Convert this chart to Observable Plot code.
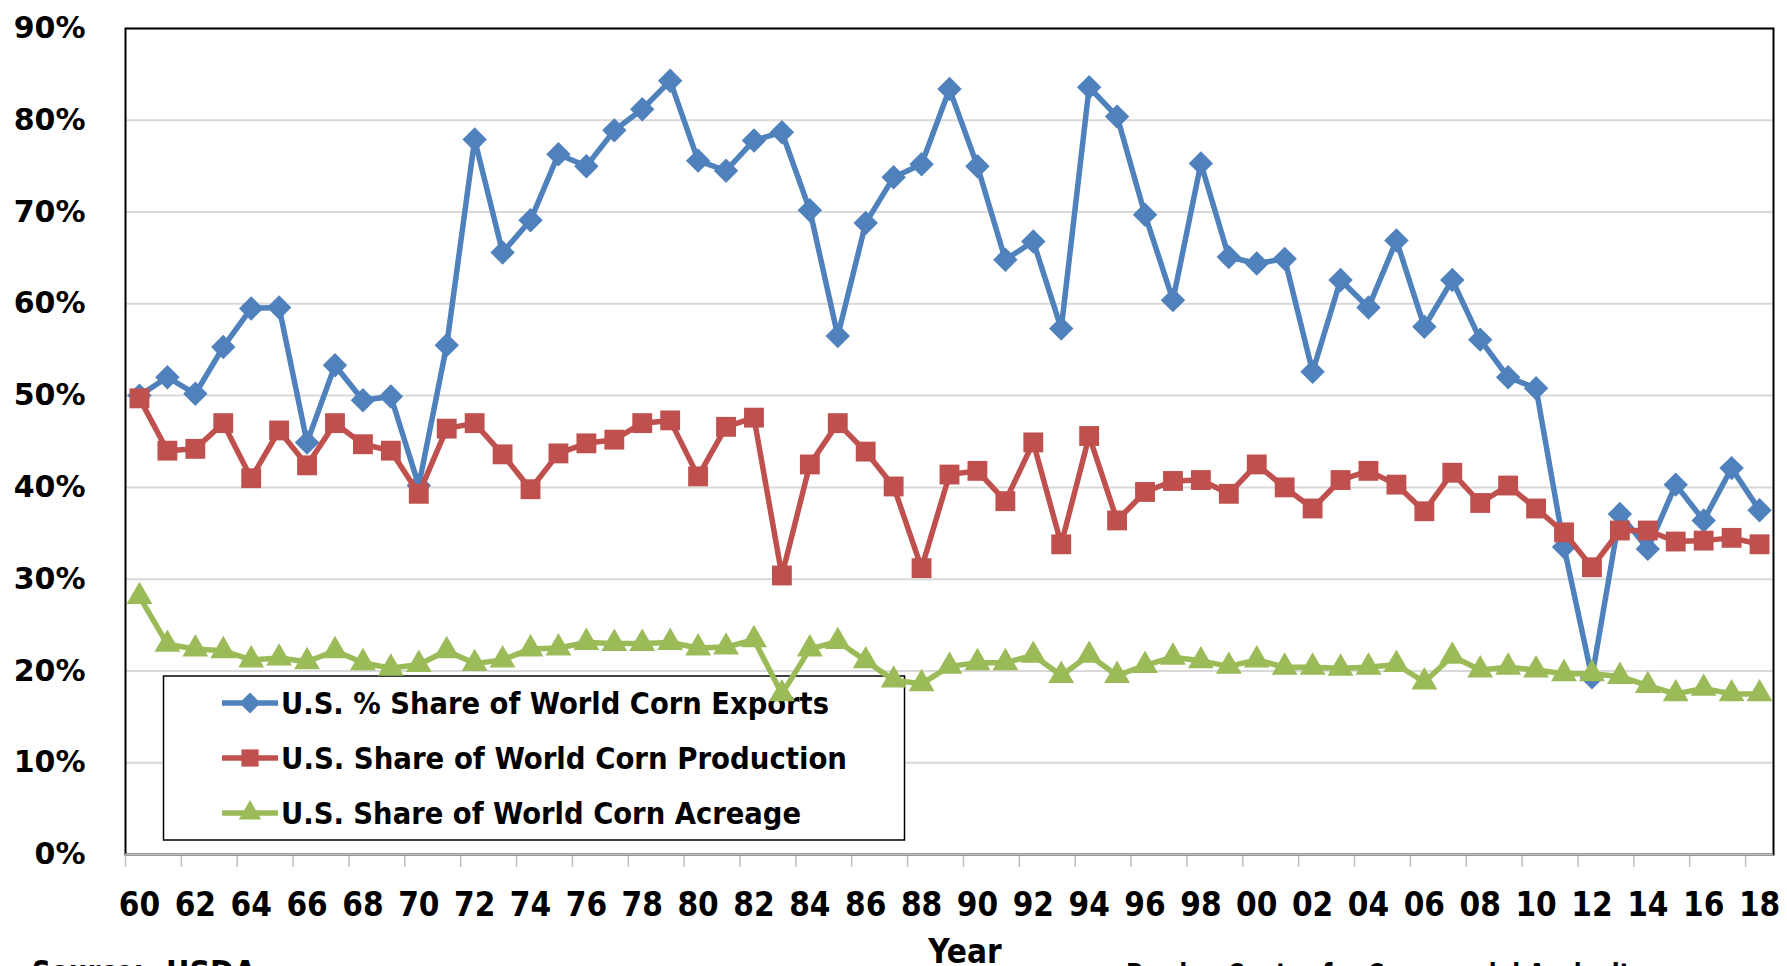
<!DOCTYPE html>
<html>
<head>
<meta charset="utf-8">
<script src="https://cdn.jsdelivr.net/npm/d3@7"></script>
<script src="https://cdn.jsdelivr.net/npm/@observablehq/plot@0.6"></script>
<style>
  html, body { margin: 0; padding: 0; background: #fff; overflow: hidden; }
  #chart { width: 1787px; height: 966px; }
</style>
</head>
<body>
<div id="chart"></div>
<script>
const years = d3.range(1960, 2019);
const exportsShare = [50.0, 52.0, 50.2, 55.3, 59.5, 59.6, 44.9, 53.3, 49.5, 49.9,
  40.2, 55.5, 77.9, 65.6, 69.1, 76.3, 75.0, 78.9, 81.2, 84.3,
  75.6, 74.5, 77.8, 78.7, 70.2, 56.5, 68.8, 73.8, 75.2, 83.4,
  75.0, 64.8, 66.8, 57.3, 83.6, 80.4, 69.7, 60.4, 75.3, 65.1,
  64.4, 64.9, 52.6, 62.6, 59.6, 66.9, 57.5, 62.6, 56.1, 52.0,
  50.8, 33.5, 19.3, 37.1, 33.3, 40.3, 36.4, 42.1, 37.5];
const productionShare = [49.7, 44.0, 44.2, 47.0, 41.0, 46.2, 42.4, 47.0, 44.7, 44.0,
  39.3, 46.4, 47.0, 43.6, 39.8, 43.7, 44.8, 45.2, 47.0, 47.3,
  41.2, 46.6, 47.6, 30.4, 42.5, 47.0, 43.9, 40.1, 31.2, 41.4,
  41.8, 38.5, 44.9, 33.8, 45.6, 36.4, 39.5, 40.7, 40.8, 39.3,
  42.5, 40.0, 37.7, 40.8, 41.8, 40.3, 37.4, 41.6, 38.3, 40.2,
  37.7, 35.1, 31.3, 35.3, 35.3, 34.1, 34.2, 34.5, 33.8];
const acreageShare = [28.1, 22.9, 22.4, 22.2, 21.2, 21.4, 21.0, 22.2, 20.9, 20.3,
  20.7, 22.2, 20.8, 21.2, 22.4, 22.5, 23.1, 23.0, 23.0, 23.1,
  22.5, 22.6, 23.4, 17.5, 22.4, 23.2, 21.1, 19.0, 18.6, 20.5,
  20.9, 20.9, 21.7, 19.5, 21.7, 19.5, 20.6, 21.5, 21.1, 20.5,
  21.2, 20.4, 20.4, 20.3, 20.4, 20.7, 18.8, 21.6, 20.1, 20.4,
  20.1, 19.7, 19.7, 19.4, 18.4, 17.5, 18.1, 17.5, 17.5];
const seriesNames = ["U.S. % Share of World Corn Exports", "U.S. Share of World Corn Production", "U.S. Share of World Corn Acreage"];
const seriesColors = ["#4F81BD", "#C0504D", "#9BBB59"];
const yTicks = [0, 0.1, 0.2, 0.3, 0.4, 0.5, 0.6, 0.7, 0.8, 0.9];
const xLabelYears = d3.range(1960, 2019, 2);
const xTickBounds = d3.range(1959.5, 2018, 2);
const xAxisTitle = "Year";
const sourceLeft = ["Source:", "USDA"];
const sourceRight = "Purdue Center for Commercial Agriculture";

const condensed = "'DejaVu Sans Condensed', 'Liberation Sans Narrow', 'DejaVu Sans', sans-serif";
const wide = "'DejaVu Sans', Verdana, sans-serif";

const table = (vals) => years.map((year, i) => ({year, value: vals[i] / 100}));
const series = [exportsShare, productionShare, acreageShare].map(table);
const symbols = [
  {symbol: "diamond2", r: 11},
  {symbol: "square", r: 11.2},
  {symbol: "triangle", r: 9.6}
];

const seriesMarks = series.flatMap((d, i) => [
  Plot.line(d, {x: "year", y: "value", stroke: seriesColors[i], strokeWidth: 5.5, strokeLinejoin: "round"}),
  Plot.dot(d, {x: "year", y: "value", symbol: symbols[i].symbol, r: symbols[i].r, fill: seriesColors[i], stroke: "none"})
]);

const chart = Plot.plot({
  width: 1787,
  height: 966,
  marginLeft: 125,
  marginRight: 14,
  marginTop: 28,
  marginBottom: 112,
  style: {background: "transparent", overflow: "visible"},
  x: {domain: [1959.5, 2018.5], axis: null},
  y: {domain: [0, 0.9], axis: null},
  marks: [
    Plot.gridY(yTicks, {stroke: "#d9d9d9", strokeWidth: 2, strokeOpacity: 1, ariaLabel: "grid"}),
    Plot.axisY(yTicks, {tickFormat: d3.format(".0%"), tickSize: 0, tickPadding: 40, fontSize: 30, fontFamily: wide, fontWeight: "bold", fill: "black", label: null}),
    Plot.axisX(xLabelYears, {tickFormat: (y) => String(y % 100).padStart(2, "0"), tickSize: 0, tickPadding: 38, fontSize: 33, fontFamily: condensed, fontWeight: "bold", fill: "black", label: null}),
    Plot.axisX(xTickBounds, {tickFormat: () => "", tickSize: 13, stroke: "#bfbfbf", strokeWidth: 1.5, label: null}),
    Plot.frame({stroke: "black", strokeWidth: 2}),
    Plot.ruleY([0], {stroke: "#bfbfbf", strokeWidth: 2}),
    ...seriesMarks
  ]
});

document.getElementById("chart").append(chart);

const svg = d3.select(chart);
// Legend, drawn above the grid but beneath the series
const gridNode = chart.querySelector('g[aria-label="grid"]');
const legend = svg.insert("g", () => gridNode.nextSibling).attr("class", "legend");
legend.append("rect").attr("x", 163.5).attr("y", 676).attr("width", 741).attr("height", 164)
  .attr("fill", "white").attr("stroke", "black").attr("stroke-width", 1.5);
const rowY = [703, 758, 813];
const textW = [548, 566, 520];
const symGen = [d3.symbolDiamond2, d3.symbolSquare, d3.symbolTriangle];
seriesNames.forEach((name, i) => {
  const g = legend.append("g");
  g.append("line").attr("x1", 222).attr("x2", 278).attr("y1", rowY[i]).attr("y2", rowY[i])
    .attr("stroke", seriesColors[i]).attr("stroke-width", 5.5);
  g.append("path").attr("transform", `translate(250,${rowY[i]})`)
    .attr("d", d3.symbol(symGen[i], Math.PI * symbols[i].r * symbols[i].r * 0.75)())
    .attr("fill", seriesColors[i]);
  g.append("text").attr("x", 281).attr("y", rowY[i] + 10.5)
    .attr("text-anchor", "start")
    .attr("font-family", condensed).attr("font-weight", "bold").attr("font-size", 30)
    .attr("fill", "black").attr("textLength", textW[i]).attr("lengthAdjust", "spacingAndGlyphs")
    .text(name);
});

// Axis title and source lines
svg.append("text").attr("x", 965).attr("y", 963).attr("text-anchor", "middle")
  .attr("font-family", condensed).attr("font-weight", "bold").attr("font-size", 33).attr("fill", "black")
  .text(xAxisTitle);
svg.append("text").attr("x", 32).attr("y", 983).attr("text-anchor", "start")
  .attr("font-family", condensed).attr("font-weight", "bold").attr("font-size", 32).attr("fill", "black")
  .attr("textLength", 112).attr("lengthAdjust", "spacingAndGlyphs")
  .text(sourceLeft[0]);
svg.append("text").attr("x", 166).attr("y", 983).attr("text-anchor", "start")
  .attr("font-family", condensed).attr("font-weight", "bold").attr("font-size", 32).attr("fill", "black")
  .text(sourceLeft[1]);
svg.append("text").attr("x", 1126).attr("y", 986).attr("text-anchor", "start")
  .attr("font-family", condensed).attr("font-weight", "bold").attr("font-size", 32).attr("fill", "black")
  .attr("textLength", 548).attr("lengthAdjust", "spacingAndGlyphs")
  .text(sourceRight);
</script>
</body>
</html>
